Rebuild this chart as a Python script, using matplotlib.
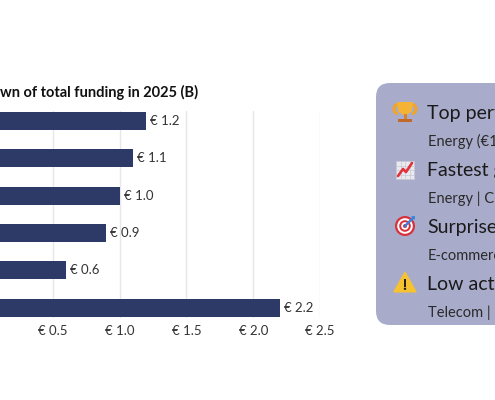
import matplotlib
matplotlib.use("Agg")
import matplotlib.pyplot as plt
from matplotlib.patches import FancyBboxPatch, Circle, Polygon, Rectangle, Arc
import numpy as np

plt.rcParams['font.family'] = ['Lato', 'DejaVu Sans']

# ---- data ----
categories = ["Energy", "Fintech", "Health", "Software", "Telecom", "Other"]
values = [1.2, 1.1, 1.0, 0.9, 0.6, 2.2]
xticks = [0.0, 0.5, 1.0, 1.5, 2.0, 2.5]
xtick_labels = ["€ 0.0", "€ 0.5", "€ 1.0", "€ 1.5", "€ 2.0", "€ 2.5"]
title = "Breakdown of total funding in 2025 (B)"
panel_titles = ["Top performer", "Fastest growth", "Surprise", "Low activity"]
panel_subs = ["Energy (€1.2B)", "Energy | Cleantech", "E-commerce", "Telecom | Media"]

W, H = 495, 400
fig = plt.figure(figsize=(W / 100, H / 100), dpi=100)

# main axes in pixel geometry
x0, x1 = -14, 320
ytop, ybot = 110.9, 317.8
ax = fig.add_axes([x0 / W, 1 - ybot / H, (x1 - x0) / W, (ybot - ytop) / H])
y = np.arange(len(categories))
bar_color = "#2d3a67"
ax.barh(y, values, height=0.48, color=bar_color, zorder=3)
for yi, v in zip(y, values):
    ax.text(v + 0.03, yi, f"€ {v:.1f}", va="center", ha="left",
            fontsize=9.5, color="#333333")
ax.set_xlim(0, 2.5)
ax.set_ylim(5.27, -0.27)
ax.set_xticks(xticks)
ax.set_xticklabels(xtick_labels, fontsize=9.5, color="#333333")
ax.set_yticks(y)
ax.set_yticklabels([])
ax.tick_params(axis="both", length=0, pad=5)
ax.grid(axis="x", color="#e6e6ec", linewidth=1, zorder=0)
for s in ax.spines.values():
    s.set_visible(False)

fig.text(198 / W, 1 - 92.5 / H, title, ha="right", va="center",
         fontsize=10.5, fontweight="bold", color="#111111")

# overlay in pixel coords
ov = fig.add_axes([0, 0, 1, 1], zorder=5)
ov.set_xlim(0, W)
ov.set_ylim(H, 0)
ov.axis("off")
ov.patch.set_alpha(0)

panel = FancyBboxPatch((376, 83), 200, 242, boxstyle="round,pad=0,rounding_size=14",
                       facecolor="#a9abca", edgecolor="none")
ov.add_patch(panel)

hb = [119, 176, 233, 290]   # header baselines
sb = [146, 203, 260, 317]   # sub-line baselines
for t, s, a, b in zip(panel_titles, panel_subs, hb, sb):
    ov.text(427, a, t, fontsize=14, color="#1a1a1a", ha="left", va="baseline")
    ov.text(428, b, s, fontsize=10.5, color="#2a2a2a", ha="left", va="baseline")

hy = [112, 170, 226, 283]
ix = 405
# trophy
cy = hy[0]
ov.add_patch(Arc((ix - 7, cy - 3), 8, 9, theta1=90, theta2=270, color="#f0a52a", lw=2.2))
ov.add_patch(Arc((ix + 7, cy - 3), 8, 9, theta1=270, theta2=90, color="#f0a52a", lw=2.2))
ov.add_patch(Polygon([[ix - 8, cy - 10], [ix + 8, cy - 10], [ix + 7, cy - 1],
                      [ix + 2, cy + 3], [ix - 2, cy + 3], [ix - 7, cy - 1]],
                     closed=True, facecolor="#f5b335", edgecolor="none"))
ov.add_patch(Rectangle((ix - 1.5, cy + 2), 3, 4.5, facecolor="#d9822b", edgecolor="none"))
ov.add_patch(Rectangle((ix - 7, cy + 6.5), 14, 3.5, facecolor="#c2692a", edgecolor="none"))

# chart icon
cy = hy[1]
ov.add_patch(Rectangle((ix - 9, cy - 9), 18, 18, facecolor="#e9e9f0", edgecolor="#c8c8d4", lw=0.6))
for k in range(1, 4):
    ov.plot([ix - 9 + 4.5 * k] * 2, [cy - 9, cy + 9], color="#c8c8d4", lw=0.5)
    ov.plot([ix - 9, ix + 9], [cy - 9 + 4.5 * k] * 2, color="#c8c8d4", lw=0.5)
ov.plot([ix - 7, ix - 2, ix + 1, ix + 7], [cy + 6, cy - 1, cy + 2, cy - 7],
        color="#e0333c", lw=1.9, solid_capstyle="round")

# target
cy = hy[2]
for r, c in [(10, "#d8313b"), (7.8, "white"), (5.8, "#d8313b"), (3.8, "white"), (2, "#d8313b")]:
    ov.add_patch(Circle((ix, cy), r, facecolor=c, edgecolor="none"))
ov.plot([ix, ix + 8], [cy, cy - 8], color="#3b7dd8", lw=1.7)
ov.add_patch(Polygon([[ix + 6, cy - 10], [ix + 10, cy - 10], [ix + 10, cy - 6]],
                     closed=True, facecolor="#3b8fe0", edgecolor="none"))

# warning
cy = hy[3]
ov.add_patch(Polygon([[ix, cy - 10], [ix + 10.5, cy + 8.5], [ix - 10.5, cy + 8.5]], closed=True,
                     facecolor="#f6c230", edgecolor="#f6c230", lw=1.5, joinstyle="round"))
ov.add_patch(Rectangle((ix - 1.1, cy - 4), 2.2, 7.5, facecolor="#222222", edgecolor="none"))
ov.add_patch(Circle((ix, cy + 5.8), 1.2, facecolor="#222222", edgecolor="none"))

fig.savefig("out.png", dpi=100)
